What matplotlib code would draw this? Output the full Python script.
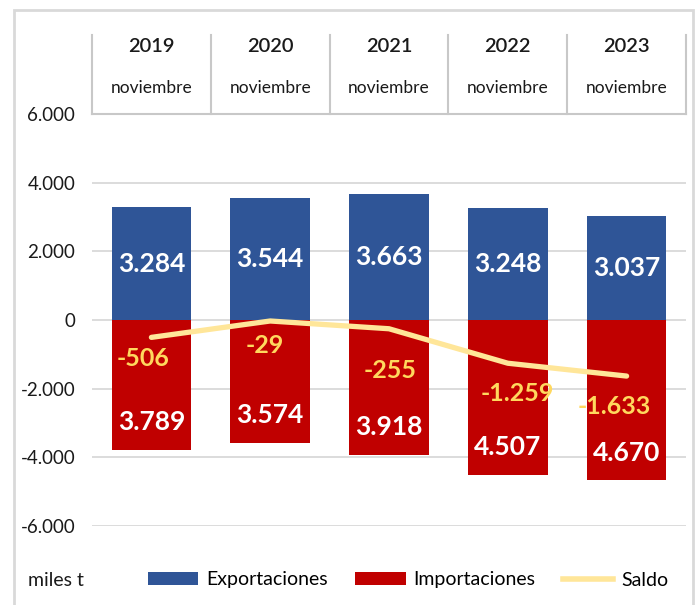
import matplotlib
matplotlib.use("Agg")
import matplotlib.pyplot as plt
from matplotlib.patches import Rectangle, Patch
from matplotlib.lines import Line2D
import numpy as np

years = ["2019", "2020", "2021", "2022", "2023"]
month = "noviembre"
exportaciones = [3284, 3544, 3663, 3248, 3037]
importaciones = [3789, 3574, 3918, 4507, 4670]
saldo = [-506, -29, -255, -1259, -1633]
yticks = [6000, 4000, 2000, 0, -2000, -4000, -6000]
ytick_labels = ["6.000", "4.000", "2.000", "0", "-2.000", "-4.000", "-6.000"]
unit_label = "miles t"

def fmt(v):
    s = f"{abs(v):,}".replace(",", ".")
    return ("-" if v < 0 else "") + s

plt.rcParams['font.family'] = ['Lato', 'DejaVu Sans']

W, H = 699, 605
fig = plt.figure(figsize=(W / 100, H / 100), dpi=100)

# outer border
fig.patches.append(Rectangle((14 / W, -0.05), (693 - 14) / W, 1.05 - 10 / H,
                             transform=fig.transFigure, fill=False,
                             edgecolor="#D9D9D9", linewidth=2.0))

ax_l, ax_r, ax_t, ax_b = 92, 686, 114, 526
ax = fig.add_axes([ax_l / W, (H - ax_b) / H, (ax_r - ax_l) / W, (ax_b - ax_t) / H])
ax.set_xlim(-0.5, len(years) - 0.5)
ax.set_ylim(-6000, 6000)

x = np.arange(len(years))
blue = "#2F5597"
red = "#C00000"
ax.bar(x, exportaciones, width=0.67, color=blue, zorder=2)
ax.bar(x, [-v for v in importaciones], width=0.67, color=red, zorder=2)
ax.plot(x, saldo, color="#FFE699", linewidth=3.8, solid_capstyle="round",
        solid_joinstyle="round", zorder=3)

# gridlines
for t in yticks[1:]:
    ax.axhline(t, color="#D9D9D9", linewidth=1.3, zorder=1)

for s in ax.spines.values():
    s.set_visible(False)
ax.set_xticks([])
ax.set_yticks(yticks)
ax.set_yticklabels(ytick_labels, fontsize=13.5, color="#1a1a1a")
ax.tick_params(axis="y", length=0, pad=12)

# value labels
for xi, v in zip(x, exportaciones):
    ax.text(xi, v / 2, fmt(v), ha="center", va="center", color="white",
            fontsize=19, fontweight="bold", zorder=4)
for xi, v in zip(x, importaciones):
    ax.annotate(fmt(v), (xi, -v), xytext=(0, 20), textcoords="offset points",
                ha="center", va="center", color="white", fontsize=19,
                fontweight="bold", zorder=4)
saldo_offsets = [(-6, -15), (-4, -18), (1, -30), (7, -22), (-9, -22)]
for xi, v, off in zip(x, saldo, saldo_offsets):
    ax.annotate(fmt(v), (xi, v), xytext=off, textcoords="offset points",
                ha="center", va="center", color="#FFD85E", fontsize=18,
                fontweight="bold", zorder=4)

# header table
tr = ax.get_xaxis_transform()
top = 1 + (ax_t - 35) / (ax_b - ax_t)
for b in np.arange(-0.5, len(years), 1.0):
    ax.plot([b, b], [1, top], transform=tr, color="#C8C8C8", linewidth=1.5,
            clip_on=False)
ax.plot([-0.5, len(years) - 0.5], [1, 1], transform=tr, color="#C8C8C8",
        linewidth=1.5, clip_on=False)
y_year = 1 + (ax_t - 47) / (ax_b - ax_t)
y_month = 1 + (ax_t - 88) / (ax_b - ax_t)
for xi, yr in zip(x, years):
    ax.text(xi, y_year, yr, transform=tr, ha="center", va="center",
            fontsize=14.5, color="#1a1a1a", fontweight="semibold")
    ax.text(xi, y_month, month, transform=tr, ha="center", va="center",
            fontsize=12.5, color="#1a1a1a")

# legend
fig.text(28 / W, (H - 580) / H, unit_label, ha="left", va="center",
         fontsize=14, color="#1a1a1a")
handles = [Patch(facecolor=blue), Patch(facecolor=red),
           Line2D([0], [0], color="#FFE699", linewidth=4)]
fig.legend(handles, ["Exportaciones", "Importaciones", "Saldo"],
           loc="center", bbox_to_anchor=(408 / W, (H - 580) / H), ncol=3,
           frameon=False, fontsize=14, handlelength=2.6, handleheight=0.6,
           handletextpad=0.4, columnspacing=1.4)

fig.savefig("out.png", dpi=100)
